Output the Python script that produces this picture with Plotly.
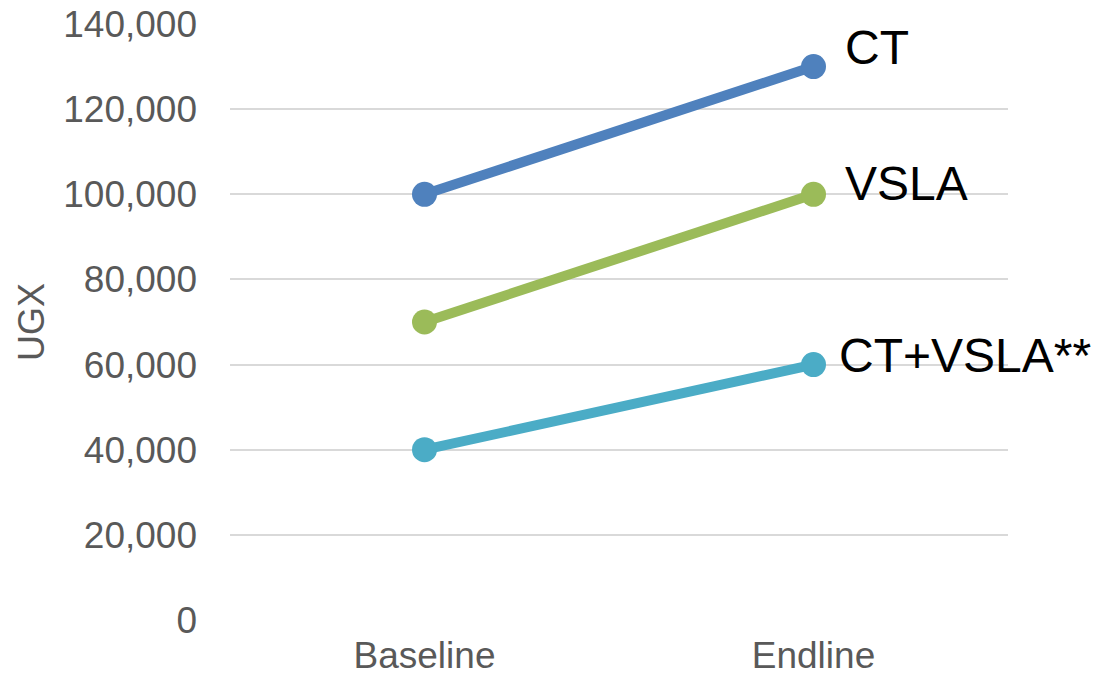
import plotly.graph_objects as go

# Survey rounds and mean values (UGX) per programme group
rounds = ["Baseline", "Endline"]
ct = [100000, 130000]
vsla = [70000, 100000]
ct_vsla = [40000, 60000]
y_ticks = [0, 20000, 40000, 60000, 80000, 100000, 120000, 140000]
y_tick_text = ["0", "20,000", "40,000", "60,000", "80,000", "100,000", "120,000", "140,000"]

series = [
    ("CT", ct, "#4F81BD"),
    ("VSLA", vsla, "#9BBB59"),
    ("CT+VSLA**", ct_vsla, "#4BACC6"),
]

fig = go.Figure()
for name, vals, color in series:
    fig.add_trace(go.Scatter(
        x=rounds, y=vals, name=name, mode="lines+markers",
        line=dict(color=color, width=10),
        marker=dict(color=color, size=25),
        showlegend=False, hoverinfo="skip",
    ))

# End-of-line series labels
label_shift = {"CT": (29, 19), "VSLA": (29, 11), "CT+VSLA**": (23, 9)}
for name, vals, color in series:
    dx, dy = label_shift[name]
    fig.add_annotation(
        x=rounds[-1], y=vals[-1], text=name, showarrow=False,
        xanchor="left", yanchor="middle", xshift=dx, yshift=dy,
        font=dict(family="Liberation Sans, Arial, sans-serif", size=48, color="#000000"),
    )

fig.update_layout(
    width=1094, height=678,
    margin=dict(l=230, r=86, t=24, b=58),
    paper_bgcolor="white", plot_bgcolor="white",
    font=dict(family="Liberation Sans, Arial, sans-serif", color="#595959"),
    xaxis=dict(
        range=[-0.5, 1.5], showgrid=False, showline=False, zeroline=False,
        automargin=False,
        tickfont=dict(size=37, color="#595959"), ticks="", ticklabelstandoff=10,
    ),
    yaxis=dict(
        range=[0, 140000], tickvals=y_ticks, ticktext=y_tick_text,
        showgrid=True, gridcolor="#D9D9D9", gridwidth=2, zeroline=False, showline=False,
        automargin=False,
        tickfont=dict(size=37, color="#595959"), ticks="", ticklabelstandoff=32,
        title=dict(text="UGX", font=dict(size=36, color="#595959"), standoff=7),
    ),
)

fig.write_html("out.html")
